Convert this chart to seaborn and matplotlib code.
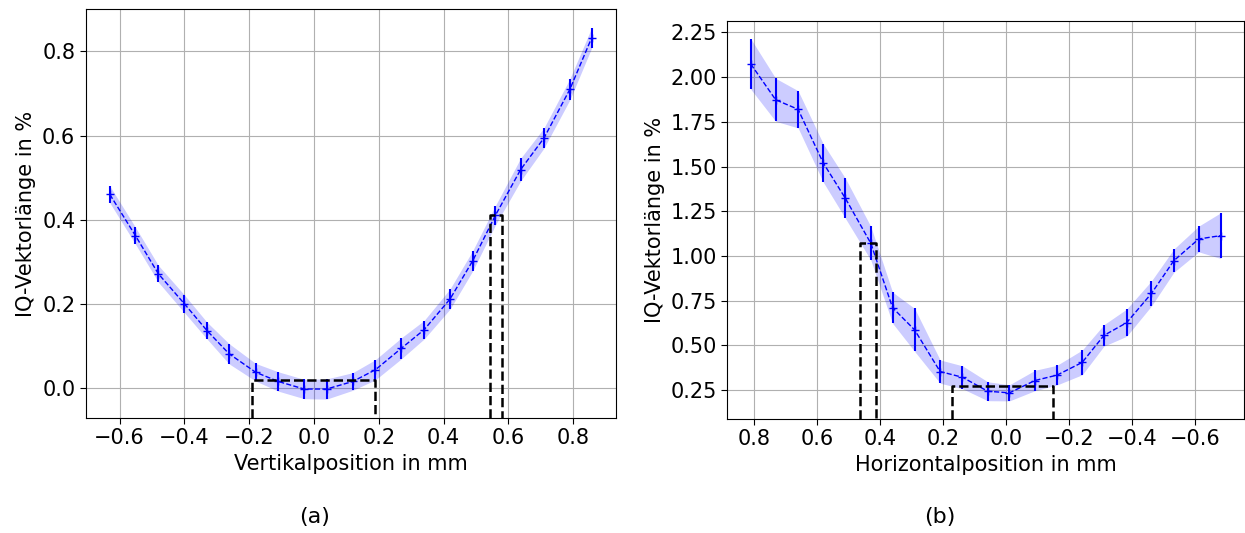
import numpy as np
import pandas as pd
import matplotlib
matplotlib.use('Agg')
import matplotlib.pyplot as plt
from matplotlib.ticker import MultipleLocator
import seaborn as sns

# (a) vertical scan
x_a = [-0.63, -0.551, -0.48, -0.40, -0.33, -0.262, -0.18, -0.11, -0.03, 0.039, 0.12,
       0.19, 0.27, 0.34, 0.42, 0.49, 0.56, 0.638, 0.71, 0.79, 0.857]
y_a = [0.46, 0.362, 0.271, 0.20, 0.136, 0.081, 0.037, 0.015, -0.003, -0.003, 0.015,
       0.043, 0.094, 0.138, 0.211, 0.302, 0.41, 0.519, 0.594, 0.71, 0.832]
err_a = [0.02, 0.02, 0.02, 0.021, 0.02, 0.024, 0.021, 0.023, 0.023, 0.024, 0.021,
         0.024, 0.025, 0.022, 0.024, 0.024, 0.023, 0.027, 0.024, 0.025, 0.024]
brackets_a = [(-0.19, 0.19, 0.019), (0.544, 0.579, 0.41)]

# (b) horizontal scan
x_b = [0.811, 0.732, 0.661, 0.581, 0.511, 0.43, 0.361, 0.291, 0.21, 0.139, 0.059,
       -0.01, -0.091, -0.161, -0.241, -0.31, -0.382, -0.461, -0.532, -0.611, -0.681]
y_b = [2.073, 1.873, 1.82, 1.52, 1.323, 1.071, 0.711, 0.587, 0.354, 0.322, 0.244,
       0.235, 0.304, 0.334, 0.405, 0.556, 0.627, 0.791, 0.974, 1.095, 1.114]
err_b = [0.141, 0.12, 0.104, 0.107, 0.112, 0.094, 0.087, 0.12, 0.065, 0.064, 0.053,
         0.045, 0.057, 0.055, 0.069, 0.06, 0.076, 0.07, 0.065, 0.072, 0.128]
brackets_b = [(0.463, 0.412, 1.071), (0.171, -0.147, 0.272)]

sns.set_style('ticks', {'axes.grid': True, 'grid.color': '#b0b0b0',
                        'axes.edgecolor': 'black', 'text.color': 'black',
                        'axes.labelcolor': 'black', 'xtick.color': 'black',
                        'ytick.color': 'black'})
plt.rcParams['font.family'] = ['DejaVu Sans']
plt.rcParams['font.size'] = 15

W, H = 1245, 533
fig = plt.figure(figsize=(W / 100, H / 100), dpi=100)


def px_axes(left, top, right, bottom):
    return fig.add_axes([left / W, 1 - bottom / H, (right - left) / W, (bottom - top) / H])


def draw(ax, x, y, err, brackets, xlabel):
    df = pd.DataFrame({'x': x, 'y': y, 'err': err})
    lo = df['y'] - df['err']
    hi = df['y'] + df['err']
    ax.fill_between(df['x'], lo, hi, color='blue', alpha=0.2, linewidth=0)
    ax.errorbar(df['x'], df['y'], yerr=df['err'], fmt='none', ecolor='blue',
                elinewidth=1.5, capsize=0)
    sns.lineplot(data=df, x='x', y='y', ax=ax, color='blue', linestyle='--',
                 linewidth=1.0, marker='+', markersize=6, markeredgewidth=1.0,
                 markeredgecolor='blue', sort=False, estimator=None)
    ax.grid(True, color='#b0b0b0', linewidth=0.8)
    ax.xaxis.set_major_locator(MultipleLocator(0.2))
    ymin = ax.get_ylim()[0]
    for x1, x2, top in brackets:
        ax.plot([x1, x1, x2, x2], [ymin, top, top, ymin], color='black',
                linestyle='--', linewidth=1.8, scalex=False, scaley=False)
    ax.set_xlabel(xlabel, fontsize=15, color='black')
    ax.set_ylabel('IQ-Vektorlänge in %', fontsize=15, color='black')
    ax.tick_params(labelsize=15, length=4, width=0.8, colors='black')
    for s in ax.spines.values():
        s.set_linewidth(0.8)
        s.set_color('black')


ax1 = px_axes(85.7, 9.3, 615.7, 417.7)
draw(ax1, x_a, y_a, err_a, brackets_a, 'Vertikalposition in mm')

ax2 = px_axes(727.3, 20.7, 1244.3, 419.0)
draw(ax2, x_b, y_b, err_b, brackets_b, 'Horizontalposition in mm')
ax2.invert_xaxis()

fig.text(315 / W, 1 - 517 / H, '(a)', ha='center', va='center', fontsize=16, color='black')
fig.text(940 / W, 1 - 517 / H, '(b)', ha='center', va='center', fontsize=16, color='black')

fig.savefig('out.png', dpi=100)
